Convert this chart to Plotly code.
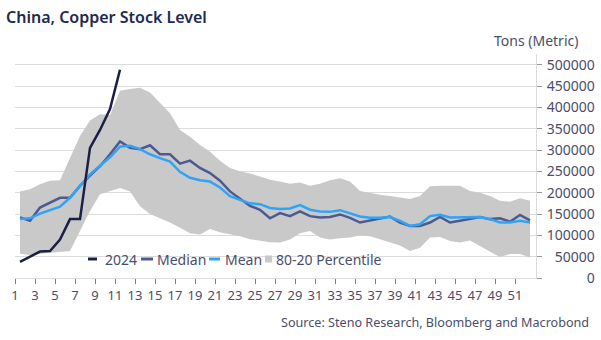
import plotly.graph_objects as go

weeks = list(range(1, 53))

upper_80 = [203, 208, 220, 228, 229, 282, 333, 369, 384, 382, 439, 443, 446, 435, 410, 386,
            347, 331, 312, 296, 275, 258, 250, 245, 238, 230, 226, 221, 224, 216, 221, 229,
            234, 226, 204, 199, 195, 192, 188, 185, 192, 215, 216, 216, 216, 204, 200, 192,
            181, 179, 187, 181]
lower_20 = [57, 54, 57, 59, 62, 63, 110, 157, 196, 204, 211, 203, 168, 150, 140, 130,
            118, 105, 102, 115, 107, 103, 98, 91, 87, 84, 83, 90, 105, 110, 95, 90,
            93, 95, 100, 98, 91, 83, 76, 63, 71, 95, 96, 87, 83, 88, 75, 62,
            49, 56, 56, 48]
median = [142, 134, 165, 177, 188, 188, 216, 240, 262, 290, 320, 305, 302, 311, 290, 290,
          268, 275, 258, 246, 228, 203, 186, 169, 160, 140, 152, 145, 156, 145, 142, 143,
          149, 141, 130, 135, 140, 144, 130, 122, 122, 130, 143, 130, 134, 138, 143, 138,
          140, 132, 148, 135]
mean = [138, 140, 151, 159, 167, 188, 216, 243, 263, 283, 308, 310, 302, 290, 281, 273,
        249, 235, 229, 226, 212, 192, 183, 175, 173, 164, 162, 163, 171, 160, 156, 155,
        159, 152, 144, 141, 141, 143, 134, 122, 126, 145, 148, 142, 142, 142, 143, 138,
        130, 130, 134, 130]
y2024 = [38, 50, 62, 63, 90, 138, 138, 305, 347, 396, 488]

# values above are in thousands of tons
k = 1000
upper_80 = [v * k for v in upper_80]
lower_20 = [v * k for v in lower_20]
median = [v * k for v in median]
mean = [v * k for v in mean]
y2024 = [v * k for v in y2024]

x_labels = list(range(1, 52, 2))
y_ticks = list(range(0, 500001, 50000))

C_2024 = "#1c1f45"
C_MED = "#4d5a92"
C_MEAN = "#2fa4f7"
C_BAND = "#c9c9c9"
C_TEXT = "#4b4e6a"
C_GRID = "#dcdcdc"
FONT = "Noto Sans"

W, H = 601, 340
L, R, T, B = 15, 65, 54, 62
PW, PH = W - L - R, H - T - B


def px(x):
    return (x - L) / PW


def py(y):
    return (H - B - y) / PH


fig = go.Figure()
fig.add_trace(go.Scatter(x=weeks, y=lower_20, mode="lines", line=dict(width=0),
                         hoverinfo="skip", showlegend=False))
fig.add_trace(go.Scatter(x=weeks, y=upper_80, mode="lines", line=dict(width=0),
                         fill="tonexty", fillcolor=C_BAND, name="80-20 Percentile",
                         showlegend=False))
fig.add_trace(go.Scatter(x=weeks, y=median, mode="lines", name="Median",
                         line=dict(color=C_MED, width=2.5), showlegend=False))
fig.add_trace(go.Scatter(x=weeks, y=mean, mode="lines", name="Mean",
                         line=dict(color=C_MEAN, width=2.5), showlegend=False))
fig.add_trace(go.Scatter(x=weeks[:len(y2024)], y=y2024, mode="lines", name="2024",
                         line=dict(color=C_2024, width=2.5), showlegend=False))

fig.update_xaxes(range=[0.5, 52.6], tickvals=[v - 0.5 for v in x_labels],
                 ticktext=[str(v) for v in x_labels], showgrid=False, zeroline=False,
                 showline=True, linecolor=C_GRID, linewidth=1, ticks="outside",
                 ticklen=5, tickcolor="#7f7f7f", automargin=False,
                 tickfont=dict(family=FONT, size=13, color=C_TEXT))
fig.update_yaxes(range=[0, 525000], side="right", tickvals=y_ticks,
                 ticktext=[f"{v:>6}".replace(" ", "\u2007") for v in y_ticks],
                 showgrid=True, gridcolor=C_GRID, gridwidth=1, zeroline=False,
                 showline=True, linecolor=C_GRID, linewidth=1, ticks="outside",
                 ticklen=5, tickcolor="#9a9a9a", ticklabelstandoff=2, automargin=False,
                 tickfont=dict(family=FONT, size=14, color=C_TEXT))


def note(text, x, y, xanchor, size=14, color=C_TEXT, weight=None):
    f = dict(family=FONT, size=size, color=color)
    if weight:
        f["weight"] = weight
    return dict(text=text, xref="paper", yref="paper", x=px(x), y=py(y), xanchor=xanchor,
                yanchor="middle", font=f, showarrow=False)


annotations = [
    note("China, Copper Stock Level", 4, 17, "left", size=16, color="#1f2a50", weight=600),
    note("Tons (Metric)", 492, 40, "left", size=14),
    note("Source: Steno Research, Bloomberg and Macrobond", 279, 322, "left", size=12.6),
]
legend_items = [("2024", C_2024, 88, 97, 103, "line"), ("Median", C_MED, 141, 153, 155, "line"),
                ("Mean", C_MEAN, 209, 220, 223, "line"), ("80-20 Percentile", C_BAND, 265, 272, 274, "box")]
shapes = []
LY = 259
for name, col, x0, x1, tx, kind in legend_items:
    if kind == "line":
        shapes.append(dict(type="line", xref="paper", yref="paper", x0=px(x0), x1=px(x1),
                           y0=py(LY), y1=py(LY), line=dict(color=col, width=3)))
    else:
        shapes.append(dict(type="rect", xref="paper", yref="paper", x0=px(x0), x1=px(x1),
                           y0=py(LY + 3.5), y1=py(LY - 3.5), line=dict(width=0), fillcolor=col))
    annotations.append(note(name, tx, LY, "left", size=14))

fig.update_layout(width=W, height=H, margin=dict(l=L, r=R, t=T, b=B),
                  plot_bgcolor="white", paper_bgcolor="white", showlegend=False,
                  annotations=annotations, shapes=shapes,
                  font=dict(family=FONT, color=C_TEXT))
fig.write_html("out.html")
